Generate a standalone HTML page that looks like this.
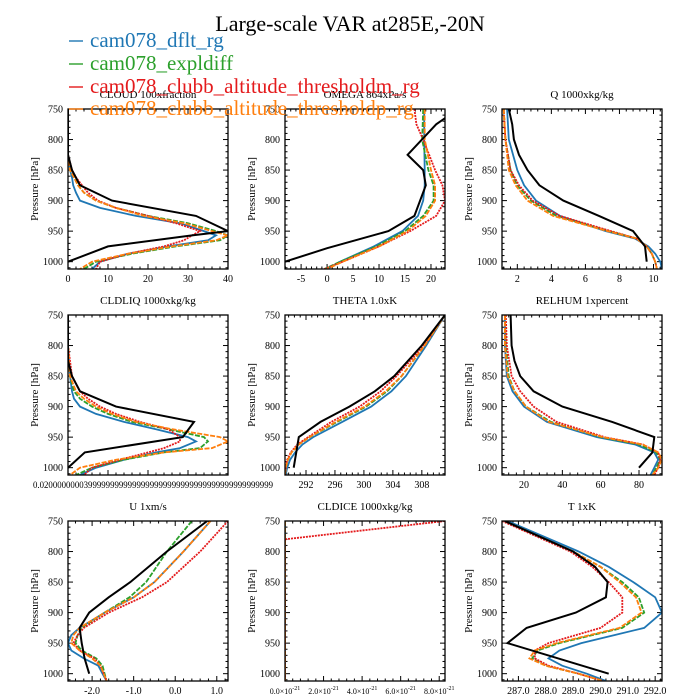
<!DOCTYPE html>
<html><head><meta charset="utf-8"><style>
html,body{margin:0;padding:0;background:#fff}
svg{display:block;font-family:"Liberation Serif",serif}
</style></head><body>
<svg id="c" width="700" height="700" viewBox="0 0 700 700">
<text x="350" y="31" font-size="22" text-anchor="middle">Large-scale VAR at285E,-20N</text>
</svg>
<script>
// ---- data ----
const seriesNames = ["cam078_dflt_rg","cam078_expldiff","cam078_clubb_altitude_thresholdm_rg","cam078_clubb_altitude_thresholdp_rg"];
const seriesColors = ["#1f77b4","#2ca02c","#e41a1c","#ff7f0e"];
const panelTitles = ["CLOUD  100xfraction","OMEGA  864xPa/s","Q  1000xkg/kg","CLDLIQ  1000xkg/kg","THETA  1.0xK","RELHUM  1xpercent","U  1xm/s","CLDICE  1000xkg/kg","T  1xK"];
const pTicks = [750,800,850,900,950,1000];

const cloudObsP = [750,800,825,850,875,900,925,950,957,975,1000];
const cloudObs = [0,0,0,1,3,11,32,40,31,10,0];
const cloudP = [750,800,825,850,862,875,887,900,912,925,937,950,957,965,975,987,1000,1012];
const cloudBlue = [0,0,0,0.5,1,1.3,2,3,8,17,28,34,37,35,25,15,8,6];
const cloudGreen = [0,0,0,0.5,1.5,2.5,4,7,12,20,30,37,40,38,27,16,7,4];
const cloudRed = [0,0,0,1,2,3.5,5,7.5,12,20,27,33,31,29,24,15,8,7];
const cloudOrange = [0,0,0,0.5,1.5,2.5,4,7,12,19,29,36,40,37,26,15,6,3];
const cloudTicks = [0,10,20,30,40];

const omegaObsP = [765,775,825,850,875,925,950,978,1000];
const omegaObs = [22.7,21,15.5,18.5,19,16.8,11.8,0,-8.1];
const omegaP = [750,775,800,850,875,900,925,950,975,1000,1012];
const omegaBlue = [18.7,18.7,18.7,18.8,18.8,18.5,17.5,14.5,9,2.5,0];
const omegaGreen = [18.5,18.4,18.3,19.5,20.5,20.5,18.5,15,9.5,2.5,-0.5];
const omegaRed = [16.8,17.2,18.5,20.8,22.2,22.7,21,16,10,3,-0.5];
const omegaOrange = [18.8,18.8,18.8,20,20.8,20.8,19,15.5,10,3,0];
const omegaTicks = [-5,0,5,10,15,20];

const qObsP = [750,775,800,825,850,875,900,925,950,975,1000];
const qObs = [1.5,1.7,1.8,2.1,2.6,3.3,4.7,6.8,8.8,9.5,9.6];
const qP = [750,800,850,875,900,925,950,962,975,987,1000,1012];
const qBlue = [1.4,1.5,2.0,2.4,3.1,4.5,7.2,8.9,9.7,10.1,10.4,10.5];
const qGreen = [1.2,1.3,1.6,2.0,2.8,4.3,7.4,9.0,9.6,9.9,10.1,10.2];
const qRed = [1.2,1.3,1.6,2.1,2.9,4.5,7.5,9.0,9.6,9.9,10.1,10.2];
const qOrange = [1.2,1.3,1.5,1.9,2.6,4.1,7.3,9.0,9.6,9.9,10.1,10.2];
const qTicks = [2,4,6,8,10];

const liqObsP = [750,800,825,850,875,900,925,950,975,1000];
const liqObs = [0,0,0,1,3,12,31.5,28.7,4.2,0];
const liqP = [750,800,850,875,887,900,912,925,937,950,957,968,975,987,1000,1012];
const liqBlue = [0,0,0.5,1,1.5,3,7,14,22,30,32,28,22,14,7,3];
const liqGreen = [0,0,0.5,1.5,3,6,10,16,25,34,35,33,24,14,6,2];
const liqRed = [0,0,1,3,5,8,12,18,25,28,28,24,20,13,6,4];
const liqOrange = [0,0,0.5,2,4,7,11,17,26,38,40,36,24,12,3,0.5];

const thetaObsP = [750,800,850,875,900,925,950,1000];
const thetaObs = [311.2,308,304.2,301.5,298,294,291,290.3];
const thetaP = [750,800,850,875,900,925,950,962,975,987,1000,1012];
const thetaBlue = [311.2,308.6,305.8,303.8,301,297,293,291.5,290.5,289.8,289.4,289.2];
const thetaGreen = [311.2,308.4,305.2,303.2,300.3,296.3,292.5,291.0,290.0,289.5,289.2,289.1];
const thetaRed = [311.2,308.3,304.5,302.3,299.4,295.5,292.3,290.8,289.9,289.4,289.2,289.1];
const thetaOrange = [311.2,308.4,305.2,303.0,300.1,296.1,292.5,291,290,289.5,289.2,289.1];
const thetaTicks = [292,296,300,304,308];

const rhObsP = [750,800,825,850,875,900,925,950,975,1000];
const rhObs = [13,13.5,15,18,25,40,66,88,87,80];
const rhP = [750,800,850,875,900,925,950,962,975,987,1000,1012];
const rhBlue = [10,10,11,14,20,32,58,78,88,90,88,86];
const rhGreen = [10,10.5,12,15,21,34,60,80,89,91,89,87];
const rhRed = [10.5,11,13.5,18,25,37,62,82,90,91,90,88];
const rhOrange = [10,10,11.5,15,21,33,61,82,90,92,90,87];
const rhTicks = [20,40,60,80];

const uObsP = [750,800,850,875,900,925,950,975,1000];
const uObs = [0.77,-0.2,-1.08,-1.6,-2.07,-2.3,-2.25,-2.18,-2.07];
const uP = [750,800,850,875,900,925,937,950,962,975,987,1000,1012];
const uBlue = [0.85,0.2,-0.5,-1.0,-1.7,-2.3,-2.5,-2.58,-2.5,-2.2,-1.85,-1.75,-1.65];
const uGreen = [0.4,-0.2,-0.7,-1.1,-1.7,-2.25,-2.35,-2.4,-2.25,-1.9,-1.75,-1.7,-1.65];
const uRed = [1.27,0.6,-0.2,-0.8,-1.6,-2.2,-2.35,-2.45,-2.3,-1.95,-1.8,-1.72,-1.65];
const uOrange = [0.85,0.2,-0.5,-1.0,-1.7,-2.3,-2.45,-2.5,-2.3,-2.0,-1.8,-1.72,-1.65];
const uTicks = [-2,-1,0,1];
const uTickLabels = ["-2.0","-1.0","0.0","1.0"];

const iceP = [750,780,800,1012];
const iceBlue = [0,0,0,0];
const iceGreen = [0,0,0,0];
const iceRed = [8.3,0,0,0];
const iceOrange = [0,0,0,0];
const iceTicks = [0,2,4,6,8];

const tObsP = [750,800,825,850,875,900,925,950,1000];
const tObs = [286.5,289.0,289.8,290.26,290.2,289.1,287.3,286.6,290.3];
const tP = [750,800,825,850,875,900,925,950,962,975,987,1000,1012];
const tBlue = [286.6,289.2,290.3,291.2,292.0,292.25,291.6,289.3,288.5,288.1,288.6,289.5,290.2];
const tGreen = [286.5,289.0,290.0,290.8,291.4,291.6,290.8,288.5,287.7,287.5,288.0,289.2,290.1];
const tRed = [286.4,288.9,289.7,290.3,290.8,290.8,290.0,288.1,287.6,287.6,288.1,289.2,290.1];
const tOrange = [286.5,289.0,290.0,290.7,291.3,291.5,290.7,288.4,287.6,287.4,288.0,289.2,290.1];
const tTicks = [287,288,289,290,291,292];
const tTickLabels = ["287.0","288.0","289.0","290.0","291.0","292.0"];

// ---- layout ----
const NS="http://www.w3.org/2000/svg";
const svg=document.getElementById('c');
function mk(tag,attrs,parent){const e=document.createElementNS(NS,tag);for(const k in attrs)e.setAttribute(k,attrs[k]);(parent||svg).appendChild(e);return e;}
const colX=[68,285,502], rowY=[109,315,521], W=160, H=160;
const panels=[
 {t:0,c:0,r:0,xmin:0,xmax:40,ticks:cloudTicks,obsP:cloudObsP,obs:cloudObs,P:cloudP,s:[cloudBlue,cloudGreen,cloudRed,cloudOrange]},
 {t:1,c:1,r:0,xmin:-8.1,xmax:22.7,ticks:omegaTicks,obsP:omegaObsP,obs:omegaObs,P:omegaP,s:[omegaBlue,omegaGreen,omegaRed,omegaOrange]},
 {t:2,c:2,r:0,xmin:1.1,xmax:10.5,ticks:qTicks,obsP:qObsP,obs:qObs,P:qP,s:[qBlue,qGreen,qRed,qOrange]},
 {t:3,c:0,r:1,xmin:0,xmax:40,ticks:[],obsP:liqObsP,obs:liqObs,P:liqP,s:[liqBlue,liqGreen,liqRed,liqOrange]},
 {t:4,c:1,r:1,xmin:289.1,xmax:311.2,ticks:thetaTicks,obsP:thetaObsP,obs:thetaObs,P:thetaP,s:[thetaBlue,thetaGreen,thetaRed,thetaOrange]},
 {t:5,c:2,r:1,xmin:8.5,xmax:92,ticks:rhTicks,obsP:rhObsP,obs:rhObs,P:rhP,s:[rhBlue,rhGreen,rhRed,rhOrange]},
 {t:6,c:0,r:2,xmin:-2.58,xmax:1.27,ticks:uTicks,labels:uTickLabels,obsP:uObsP,obs:uObs,P:uP,s:[uBlue,uGreen,uRed,uOrange]},
 {t:7,c:1,r:2,xmin:0,xmax:8.3,ticks:iceTicks,sci:true,obsP:null,obs:null,P:iceP,s:[iceBlue,iceGreen,iceRed,iceOrange]},
 {t:8,c:2,r:2,xmin:286.4,xmax:292.25,ticks:tTicks,labels:tTickLabels,obsP:tObsP,obs:tObs,P:tP,s:[tBlue,tGreen,tRed,tOrange]}
];
const PMIN=750, PMAX=1012;
panels.forEach((pn,i)=>{
  const x0=colX[pn.c], y0=rowY[pn.r];
  const xs=v=>x0+(v-pn.xmin)/(pn.xmax-pn.xmin)*W;
  const ys=p=>y0+(p-PMIN)/(PMAX-PMIN)*H;
  const g=mk('g',{});
  
  
  const tt=mk('text',{x:x0+W/2,y:y0-11,'font-size':11,'text-anchor':'middle'},g);
  tt.textContent=panelTitles[i];
  
  
  const yl=mk('text',{x:0,y:0,'font-size':11,'text-anchor':'middle',transform:`translate(${x0-30},${y0+H/2}) rotate(-90)`},g);
  yl.textContent='Pressure [hPa]';
  
  
  for(let p=750;p<=1010;p+=10){
    const y=ys(p), major=p%50===0, L=major?5:2.5;
    mk('line',{x1:x0,x2:x0+L,y1:y,y2:y,stroke:'#000','stroke-width':1},g);
    mk('line',{x1:x0+W,x2:x0+W-L,y1:y,y2:y,stroke:'#000','stroke-width':1},g);
  }
  pTicks.forEach(p=>{
    const t=mk('text',{x:x0-5,y:ys(p)+3.5,'font-size':10,'text-anchor':'end'},g);
    t.textContent=p;
    
    
  });
  if(pn.ticks.length>1){
    const step=pn.ticks[1]-pn.ticks[0];
    const mstep=step/5;
    for(let v=Math.ceil(pn.xmin/mstep)*mstep;v<=pn.xmax+1e-9;v+=mstep){
      const k=Math.round((v-pn.ticks[0])/step*5);
      const L=(k%5===0)?5:2.5;
      const x=xs(v);
      mk('line',{x1:x,x2:x,y1:y0+H,y2:y0+H-L,stroke:'#000','stroke-width':1},g);
      mk('line',{x1:x,x2:x,y1:y0,y2:y0+L,stroke:'#000','stroke-width':1},g);
    }
    pn.ticks.forEach((v,j)=>{
      const t=mk('text',{x:xs(v),y:y0+H+13,'font-size':pn.sci?8:10,'text-anchor':'middle'},g);
      if(pn.sci){t.textContent=v.toFixed(1)+'\u00d710';const s=mk('tspan',{dy:-4,'font-size':6},t);s.textContent='-21';}
      else t.textContent=pn.labels?pn.labels[j]:v;
      
      
    });
  } else {
    for(let v=0;v<=40;v+=2){const x=xs(v),L=v%10===0?5:2.5;
      mk('line',{x1:x,x2:x,y1:y0+H,y2:y0+H-L,stroke:'#000'},g);
      mk('line',{x1:x,x2:x,y1:y0,y2:y0+L,stroke:'#000'},g);}
    const t=mk('text',{x:33,y:y0+H+13,'font-size':9,textLength:240,lengthAdjust:'spacingAndGlyphs'},g);
    t.textContent='0.02000000003999999999999999999999999999999999999999999';
    
    
  }
  const cid='clip'+i;
  const cp=mk('clipPath',{id:cid},g);mk('rect',{x:x0,y:y0,width:W,height:H},cp);
  const lg=mk('g',{'clip-path':`url(#${cid})`},g);
  pn.s.forEach((arr,k)=>{
    const d=arr.map((v,j)=>(j?'L':'M')+xs(v).toFixed(1)+','+ys(pn.P[j]).toFixed(1)).join('');
    const pa=mk('path',{d:d,fill:'none',stroke:seriesColors[k],'stroke-width':1.8,'stroke-dasharray':k===0?'none':(k===2?'2,1':'5,1.5')},lg);
    
    
  });
  if(pn.obs){
    const d=pn.obs.map((v,j)=>(j?'L':'M')+xs(v).toFixed(1)+','+ys(pn.obsP[j]).toFixed(1)).join('');
    const pa=mk('path',{d:d,fill:'none',stroke:'#000','stroke-width':2},lg);
    
    
  }
  const fr=mk('rect',{x:x0,y:y0,width:W,height:H,fill:'none',stroke:'#000','stroke-width':1.3},g);
  
  
});
const legY=[47,70,93,115];
seriesNames.forEach((n,k)=>{
  const g=mk('g',{});
  
  
  mk('line',{x1:69,x2:83,y1:legY[k]-6,y2:legY[k]-6,stroke:seriesColors[k],'stroke-width':1.4},g);
  const t=mk('text',{x:90,y:legY[k],'font-size':21,fill:seriesColors[k]},g);
  t.textContent=n;
});
</script>
</body></html>
